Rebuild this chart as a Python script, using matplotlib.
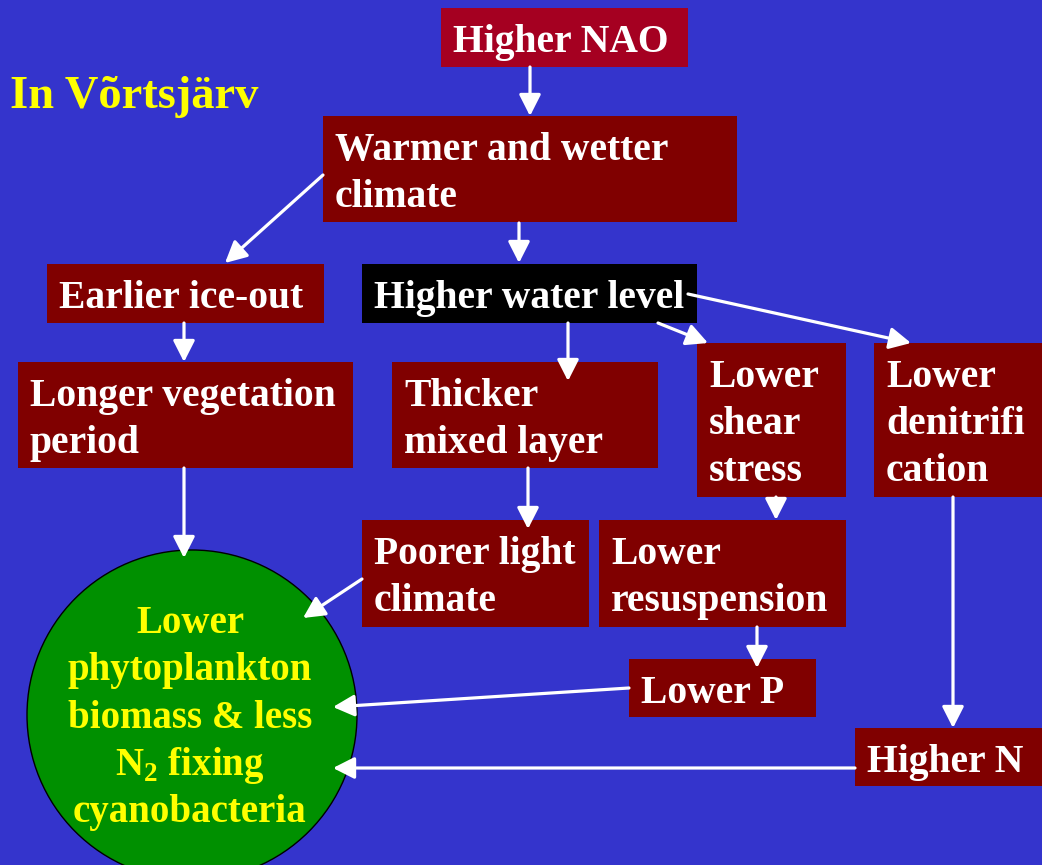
import matplotlib
matplotlib.use("Agg")
import matplotlib.pyplot as plt
from matplotlib.patches import Rectangle, Circle

# box labels (flow chart nodes)
box_labels = [
    "Higher NAO",
    "Warmer and wetter\nclimate",
    "Earlier ice-out",
    "Higher water level",
    "Longer vegetation\nperiod",
    "Thicker\nmixed layer",
    "Lower\nshear\nstress",
    "Lower\ndenitrifi\ncation",
    "Poorer light\nclimate",
    "Lower\nresuspension",
    "Lower P",
    "Higher N",
]
circle_lines = ["Lower", "phytoplankton", "biomass & less",
                r"N$_\mathregular{2}$ fixing", "cyanobacteria"]
title = "In Võrtsjärv"

# layout in pixel coords: (x0, y0, x1, y1)
box_xy = [
    (441, 8, 688, 67),
    (323, 116, 737, 222),
    (47, 264, 324, 323),
    (362, 264, 697, 323),
    (18, 362, 353, 468),
    (392, 362, 658, 468),
    (697, 343, 846, 497),
    (874, 343, 1042, 497),
    (362, 520, 589, 627),
    (599, 520, 846, 627),
    (629, 659, 816, 717),
    (855, 728, 1042, 786),
]
box_colors = ["#A50021"] + ["#800000"] * 2 + ["#000000"] + ["#800000"] * 8

# arrows: (start, tip)
arrows = [
    ((530, 67), (530, 116)),
    ((323, 175), (225, 263)),
    ((519, 223), (519, 263)),
    ((688, 294), (911, 343)),
    ((658, 323), (708, 343)),
    ((568, 323), (568, 381)),
    ((184, 323), (184, 362)),
    ((184, 468), (184, 558)),
    ((528, 468), (528, 529)),
    ((776, 497), (776, 520)),
    ((757, 627), (757, 668)),
    ((953, 497), (953, 728)),
    ((362, 579), (303, 618)),
    ((629, 688), (333, 707)),
    ((855, 768), (333, 768)),
]

plt.rcParams["mathtext.fontset"] = "custom"
plt.rcParams["mathtext.rm"] = "Liberation Serif:bold"

W, H = 1042, 865
fig = plt.figure(figsize=(W / 100, H / 100), dpi=100)
fig.patch.set_facecolor("#3434CC")
ax = fig.add_axes([0, 0, 1, 1])
ax.set_xlim(0, W)
ax.set_ylim(H, 0)
ax.axis("off")

font = dict(family="Liberation Serif", weight="bold")
line_step = 47

ax.text(10, 108, title, color="#FFFF00", fontsize=33.5, va="baseline", **font)

for label, (x0, y0, x1, y1), c in zip(box_labels, box_xy, box_colors):
    ax.add_patch(Rectangle((x0, y0), x1 - x0, y1 - y0, facecolor=c,
                           edgecolor="none", zorder=2))
    for i, line in enumerate(label.split("\n")):
        ax.text(x0 + 12, y0 + 44 + line_step * i, line, color="white",
                fontsize=28.5, va="baseline", ha="left", zorder=3, **font)

ax.add_patch(Circle((192, 715), 165, facecolor="#009000", edgecolor="black",
                    lw=1, zorder=2))
for i, line in enumerate(circle_lines):
    ax.text(190, 633 + 47.3 * i, line, color="#FFFF00", fontsize=28,
            ha="center", va="baseline", zorder=3, **font)

for (xs, ys), (xt, yt) in arrows:
    ax.annotate("", xy=(xt, yt), xytext=(xs, ys),
                arrowprops=dict(arrowstyle="-|>,head_length=0.65,head_width=0.33",
                                mutation_scale=20, lw=2.3, color="white",
                                shrinkA=0, shrinkB=0),
                zorder=4)

fig.savefig("out.png", dpi=100, facecolor=fig.get_facecolor())
